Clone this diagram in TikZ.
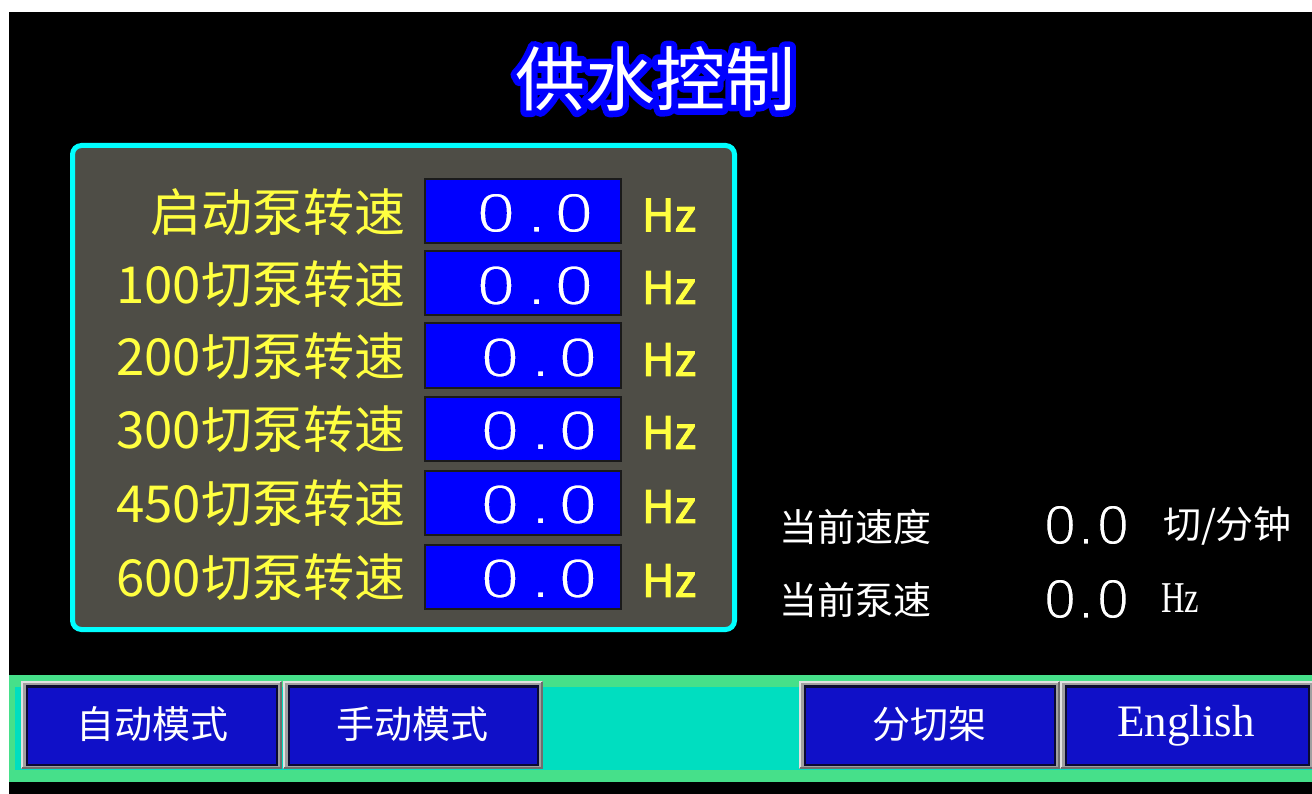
\documentclass[tikz,border=0pt]{standalone}
\usepackage{fontspec}
\setmainfont{Noto Sans CJK SC}
\newfontfamily\digf{Liberation Sans}
\newfontfamily\serf{Liberation Serif}
\newcommand\fsz[1]{\fontsize{#1}{#1}\selectfont}
\newcommand\trmode[2]{\special{pdf:literal direct #1}#2\special{pdf:literal direct 0 Tr}}
\definecolor{panelfill}{RGB}{78,77,70}
\definecolor{panelline}{RGB}{0,255,255}
\definecolor{lblyellow}{RGB}{255,255,64}
\definecolor{valblue}{RGB}{0,0,255}
\definecolor{barGreen}{RGB}{70,224,138}
\definecolor{barCyan}{RGB}{0,222,192}
\definecolor{btnBlue}{RGB}{16,16,200}
\definecolor{btnEdge}{RGB}{10,10,50}
\definecolor{frameGray}{RGB}{160,160,160}
\definecolor{frameLight}{RGB}{225,225,225}
\definecolor{frameDark}{RGB}{110,110,110}
\tikzset{
  lbl/.style={text=lblyellow, font=\fsz{51}, anchor=east},
  valbox/.style={fill=valblue, draw={rgb,255:red,26;green,26;blue,26}, line width=2pt, minimum width=196pt, minimum height=64pt},
  valtxt/.style={text=white, font=\digf\fsz{56}},
  hzlbl/.style={text=lblyellow, font=\fsz{45}},
  wtxt/.style={text=white, font=\fsz{38}},
  btnface/.style={fill=btnBlue, draw=btnEdge, line width=2.5pt},
  btntxt/.style={text=white, font=\fsz{38}},
}
\begin{document}
\begin{tikzpicture}[x=1pt, y=-1pt, every node/.style={inner sep=0pt, outer sep=0pt}]
\useasboundingbox (0,0) rectangle (1312,794);
\clip (0,0) rectangle (1312,794);
\fill[white] (0,0) rectangle (1312,794);
\fill[black] (9,12) rectangle (1312,794);

% title with glow
\node[text=blue, font=\fsz{70}] (titleglow) at (655,79) {\trmode{0 0 1 RG 12 w 1 j 1 J 1 Tr}{供水控制}};
\node[text=white, font=\fsz{70}] (title) at (655,79) {供水控制};

% panel
\draw[panelline, fill=panelfill, line width=5pt, rounded corners=9pt] (72.5,145.5) rectangle (734.5,629.5);

% rows
\foreach \i/\lab/\y/\vx in {1/启动泵转速/211/535, 2/100切泵转速/283.5/535, 3/200切泵转速/355.5/539, 4/300切泵转速/428.5/539, 5/450切泵转速/502.5/539, 6/600切泵转速/576.5/539}{
  \node[lbl] (lab\i) at (405,\y+1) {\lab};
  \node[valbox] (box\i) at (523,\y) {};
  \node[valtxt] (val\i) at (\vx,\y+2) {\scalebox{1.2}[1]{\trmode{0 0 1 RG 1.2 w 2 Tr}{0\hspace{10.5pt}.\hspace{7.8pt}0}}};
  \node[hzlbl] (hz\i) at (669,\y+4) {\trmode{1.0 w 2 Tr}{Hz}};
}

% right side readouts
\node[wtxt, anchor=west] (curspd) at (779,527) {当前速度};
\node[text=white, font=\digf\fsz{56}] (curspdv) at (1086.5,525) {\trmode{0 0 0 RG 1.2 w 2 Tr}{0\hspace{2.7pt}.\hspace{3.6pt}0}};
\node[wtxt, anchor=west] (curspdu) at (1163,526) {切/分钟};
\node[wtxt, anchor=west] (curpump) at (779,600) {当前泵速};
\node[text=white, font=\digf\fsz{56}] (curpumpv) at (1086.5,599) {\trmode{0 0 0 RG 1.2 w 2 Tr}{0\hspace{2.7pt}.\hspace{3.6pt}0}};
\node[text=white, font=\serf\fsz{44}, anchor=west] (curpumpu) at (1161,598) {\scalebox{0.74}[1]{Hz}};

% bottom bar
\fill[barGreen] (9,675) rectangle (1312,782);
\fill[barCyan] (15,687) rectangle (1312,770);

% buttons: frames
\foreach \a/\b in {21/282, 283/543, 799/1060, 1060/1320}{
  \fill[frameGray] (\a,681) rectangle (\b,769);
  \draw[frameLight, line width=2pt] (\a+1,768) -- (\a+1,682) -- (\b-1,682);
  \draw[frameDark, line width=2pt] (\a+1,768) -- (\b-1,768) -- (\b-1,682);
}
\draw[btnface] (27,686.5) rectangle (277,765);
\draw[btnface] (289,686.5) rectangle (538,765);
\draw[btnface] (805,686.5) rectangle (1055,765);
\draw[btnface] (1066,686.5) rectangle (1309,765);

\node[btntxt] (bauto) at (152,724) {自动模式};
\node[btntxt] (bmanual) at (412,724) {手动模式};
\node[btntxt] (bcut) at (929,724) {分切架};
\node[text=white, font=\serf\fsz{45}] (benglish) at (1186,726) {English};
\end{tikzpicture}
\end{document}
